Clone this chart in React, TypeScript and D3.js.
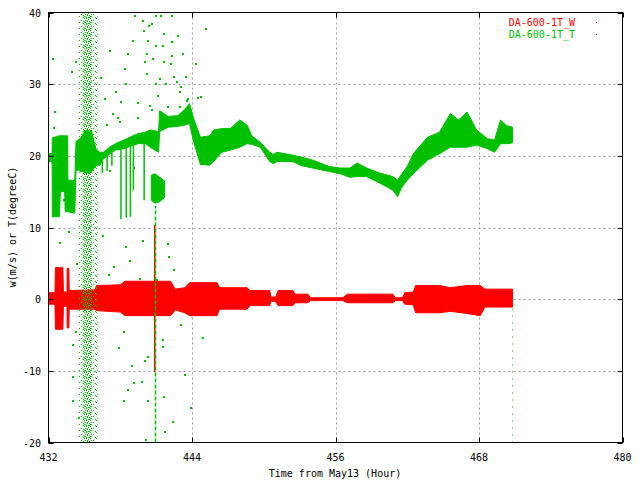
import React, { useEffect, useRef } from "react";
import * as d3 from "d3";

// axis ticks
const xTicks = [432, 444, 456, 468, 480];
const yTicks = [-20, -10, 0, 10, 20, 30, 40];

// DA-600-1T_T : envelope (upper / lower)
const tHours = [
  432.0, 432.3, 432.32, 432.9, 433.0, 433.35, 433.4, 433.6, 433.62, 434.2, 434.3, 434.7,
  435.1, 435.6, 436.0, 436.3, 436.6, 437.1, 437.6, 438.3, 438.8, 439.5, 440.1, 440.5,
  441.2, 441.3, 442.0, 442.8, 443.4, 443.8, 444.1, 444.7, 445.5, 445.8, 446.5, 447.2,
  448.0, 448.6, 449.0, 449.7, 450.5, 450.8, 451.1, 452.4, 453.2, 454.1, 455.5, 456.4,
  457.2, 457.8, 458.6, 459.7, 460.8, 461.2, 461.5, 462.0, 462.5, 463.7, 464.7, 465.6,
  466.3, 467.0, 467.8, 468.7, 469.3, 469.8, 470.3, 470.8,
];
const tHigh = [
  20.3, 20.3, 22.5, 22.8, 22.8, 22.8, 22.8, 22.8, 16.6, 16.6, 22.0, 22.5,
  23.6, 23.4, 20.8, 20.5, 20.5, 21.2, 21.7, 22.2, 22.6, 23.1, 23.3, 23.6,
  23.4, 26.3, 25.5, 25.6, 26.5, 27.3, 25.4, 22.6, 22.8, 23.6, 23.8, 23.8,
  25.0, 24.3, 22.8, 21.9, 20.5, 20.2, 20.5, 20.1, 19.8, 19.4, 18.5, 18.3,
  18.3, 19.0, 18.3, 17.6, 17.1, 16.6, 17.4, 18.5, 20.3, 22.6, 23.3, 25.9,
  25.0, 26.1, 23.6, 22.4, 22.2, 25.0, 24.2, 24.0,
];
const tLow = [
  19.2, 19.2, 11.5, 11.5, 15.0, 15.0, 12.2, 12.2, 12.2, 12.0, 18.0, 18.0,
  17.5, 17.8, 18.7, 18.7, 19.6, 20.2, 20.8, 21.0, 21.3, 21.7, 21.7, 21.2,
  20.5, 23.4, 24.0, 24.1, 24.3, 24.5, 22.2, 18.8, 18.7, 19.2, 20.5, 20.8,
  21.2, 21.7, 21.6, 21.2, 19.2, 18.9, 19.2, 19.2, 18.6, 18.3, 17.8, 17.5,
  17.0, 17.1, 17.1, 16.2, 15.2, 14.3, 15.5, 16.6, 17.5, 19.4, 20.3, 21.2,
  21.2, 21.2, 21.5, 21.0, 20.5, 21.7, 21.7, 21.8,
];

// detached low block of T near hour 441
const tBlockHours = [440.6, 440.9, 441.3, 441.7];
const tBlockHigh = [17.3, 17.5, 17.0, 16.5];
const tBlockLow = [13.8, 13.4, 13.6, 14.2];

// thin downward dropouts of T
const tDropHours = [436.5, 436.9, 437.3, 438.06, 438.5, 438.85, 439.1, 440.0];
const tDropLows = [17.6, 17.9, 18.6, 11.2, 11.4, 11.5, 15.2, 13.8];

// DA-600-1T_W : envelope
const wHours = [
  432.0, 432.54, 432.58, 433.2, 433.25, 433.55, 433.56, 433.7, 433.73, 435.9, 436.0, 438.0,
  438.4, 442.2, 442.6, 443.4, 443.8, 446.1, 446.3, 448.6, 448.85, 450.5, 450.6, 451.0,
  451.2, 452.45, 452.6, 453.7, 453.9, 456.6, 457.0, 460.8, 461.0, 461.6, 461.8, 462.5,
  462.7, 464.7, 465.6, 467.0, 468.1, 468.5, 470.8,
];
const wHigh = [
  0.9, 0.9, 4.4, 4.4, 1.0, 1.0, 4.3, 4.3, 1.2, 1.3, 1.9, 2.0,
  2.5, 2.5, 1.4, 1.6, 2.3, 2.3, 1.6, 1.6, 1.2, 1.2, 0.3, 0.3,
  1.2, 1.2, 0.7, 0.7, 0.2, 0.2, 0.7, 0.7, 0.2, 0.2, 0.9, 1.0,
  1.9, 1.9, 1.6, 1.9, 1.9, 1.4, 1.4,
];
const wLow = [
  -0.7, -0.7, -4.2, -4.2, -1.0, -1.0, -4.0, -4.0, -1.4, -1.4, -1.6, -1.8,
  -2.3, -2.3, -1.5, -1.9, -2.3, -2.3, -1.4, -1.4, -0.9, -0.9, -0.3, -0.3,
  -0.9, -0.9, -0.5, -0.5, -0.2, -0.2, -0.5, -0.5, -0.2, -0.2, -0.7, -0.8,
  -1.9, -1.9, -1.7, -2.0, -2.3, -1.1, -1.1,
];

// W spike at hour 440.88
const wSpikeHours = [440.88];
const wSpikeLow = [-10.2];
const wSpikeHigh = [10.4];

// dense green scatter band (hour ranges), outer sparse then inner dense
const bandStart = [434.55, 434.85];
const bandEnd = [436.1, 435.65];

// green vertical streak lines (second one is dotted)
const streakHours = [440.88, 470.8];
const streakLow = [-20, -20];
const streakHigh = [13, 0.5];

// sparse green scatter points
const scatterHours = [
  439.15, 439.82, 440.32, 440.9, 441.32, 442.24, 439.9, 440.57, 441.58, 442.24, 440.24, 440.15,
  440.9, 441.49, 442.24, 442.75, 439.99, 440.66, 441.58, 442.16, 443.16, 443.41, 443.0, 442.41,
  441.24, 440.15, 440.9, 441.74, 442.66, 444.42, 444.67, 445.09, 444.25, 432.3, 433.9, 434.2,
  432.5, 432.4, 437.1, 436.3, 437.6, 438.0, 438.3, 438.6, 439.0, 438.4, 437.7, 439.4,
  439.1, 437.1, 434.6, 434.0, 434.2, 434.3, 434.0, 434.0, 434.5, 437.4, 438.2, 437.8,
  438.9, 438.6, 438.2, 439.1, 439.7, 440.2, 440.2, 441.5, 441.5, 441.6, 442.3, 441.7,
  440.1, 443.3, 443.8, 442.4, 441.9, 444.8, 439.8, 438.4, 443.5, 442.9, 441.1, 440.4,
  436.8, 437.3, 436.6, 437.9, 439.4, 440.6, 441.9, 442.9, 443.6, 436.5, 437.0, 438.7,
  433.2, 433.6, 432.9, 439.6, 441.0, 442.0, 443.0, 440.0,
];
const scatterValues = [
  39.7, 38.9, 38.2, 39.7, 39.6, 39.7, 37.6, 38.6, 37.2, 36.0, 36.1, 34.4,
  35.5, 35.4, 34.1, 36.8, 33.3, 33.6, 33.3, 33.0, 34.3, 31.2, 29.8, 31.2,
  30.9, 31.6, 30.2, 30.1, 30.5, 28.2, 28.3, 37.8, 32.9, 33.7, 31.8, 33.3,
  26.3, 24.0, 34.7, 31.0, 29.1, 27.7, 32.3, 34.4, 36.1, 30.1, 25.4, 25.4,
  18.4, 18.0, 18.0, -6.3, -4.5, 5.1, -10.7, -14.0, -16.4, 4.6, -4.5, -6.7,
  -9.2, -12.5, -14.0, -11.6, -11.4, -7.9, -14.0, -5.6, -6.5, -13.5, -17.0, -18.4,
  -19.5, -10.5, -15.1, 4.2, 7.9, -5.3, 8.2, 7.4, 27.8, 26.9, 28.5, 27.1,
  24.5, 26.0, 28.0, 24.8, 27.5, 26.5, 27.0, 29.0, 28.0, 9.0, 3.5, 5.5,
  14.0, 9.5, 8.0, 3.0, 2.8, 6.0, -3.5, -8.5,
];

const RED = "#ff0000";
const GREEN = "#00c000";
const FONT = "'DejaVu Sans Mono', 'Liberation Mono', monospace";

// speckle tiles for the dense scatter band (x, y inside a 6x6 tile)
const sparseDots = [[0, 0], [3, 2], [1, 4], [5, 5]];
const denseDots = [[0, 0], [2, 0], [4, 1], [1, 2], [3, 3], [5, 3], [0, 4], [2, 5], [4, 5]];

const App: React.FC = () => {
  const svgRef = useRef<SVGSVGElement | null>(null);

  useEffect(() => {
    if (!svgRef.current) return;
    const svg = d3.select(svgRef.current);
    svg.selectAll("*").remove();

    const left = 48.5, right = 622.5, top = 12.5, bottom = 442.5;
    const x = d3.scaleLinear().domain([432, 480]).range([left, right]);
    const y = d3.scaleLinear().domain([-20, 40]).range([bottom, top]);

    const defs = svg.append("defs");
    defs.append("clipPath").attr("id", "plotclip")
      .append("rect").attr("x", left).attr("y", top).attr("width", right - left).attr("height", bottom - top);
    [["sparse", sparseDots], ["dense", denseDots]].forEach(([id, dots]) => {
      const p = defs.append("pattern").attr("id", id as string)
        .attr("patternUnits", "userSpaceOnUse").attr("width", 6).attr("height", 6);
      (dots as number[][]).forEach(([dx, dy]) => {
        p.append("rect").attr("x", dx).attr("y", dy).attr("width", 1).attr("height", 1).attr("fill", GREEN);
      });
    });

    // grid
    const grid = svg.append("g").attr("stroke", "#a0a0a0").attr("stroke-dasharray", "2,3");
    xTicks.slice(1, -1).forEach((t) => {
      grid.append("line").attr("x1", Math.round(x(t)) + 0.5).attr("x2", Math.round(x(t)) + 0.5)
        .attr("y1", top).attr("y2", bottom);
    });
    yTicks.slice(1, -1).forEach((t) => {
      grid.append("line").attr("y1", Math.round(y(t)) + 0.5).attr("y2", Math.round(y(t)) + 0.5)
        .attr("x1", left).attr("x2", right);
    });

    const plot = svg.append("g").attr("clip-path", "url(#plotclip)");

    const band = (hs: number[], hi: number[], lo: number[]) =>
      d3.area<number>()
        .x((_, i) => x(hs[i]))
        .y0((_, i) => y(lo[i]))
        .y1((_, i) => y(hi[i]))(hs);

    // W series
    plot.append("path").attr("d", band(wHours, wHigh, wLow)!)
      .attr("fill", RED).attr("stroke", RED).attr("stroke-width", 1);
    wSpikeHours.forEach((h, i) => {
      plot.append("line").attr("x1", x(h)).attr("x2", x(h))
        .attr("y1", y(wSpikeLow[i])).attr("y2", y(wSpikeHigh[i]))
        .attr("stroke", RED).attr("stroke-width", 1.5);
    });

    // T series
    bandStart.forEach((s, i) => {
      plot.append("rect").attr("x", x(s)).attr("y", top)
        .attr("width", x(bandEnd[i]) - x(s)).attr("height", bottom - top)
        .attr("fill", i === 0 ? "url(#sparse)" : "url(#dense)");
    });
    streakHours.forEach((h, i) => {
      plot.append("line").attr("x1", Math.round(x(h)) + 0.5).attr("x2", Math.round(x(h)) + 0.5)
        .attr("y1", y(streakLow[i])).attr("y2", y(streakHigh[i]))
        .attr("stroke", GREEN).attr("stroke-width", i === 0 ? 1.5 : 1)
        .attr("stroke-dasharray", i === 0 ? "4,2" : "1,6");
    });
    plot.append("path").attr("d", band(tHours, tHigh, tLow)!)
      .attr("fill", GREEN).attr("stroke", GREEN).attr("stroke-width", 1);
    plot.append("path").attr("d", band(tBlockHours, tBlockHigh, tBlockLow)!)
      .attr("fill", GREEN).attr("stroke", GREEN).attr("stroke-width", 1);
    tDropHours.forEach((h, i) => {
      const idx = d3.bisectLeft(tHours, h);
      plot.append("line").attr("x1", x(h)).attr("x2", x(h))
        .attr("y1", y(tLow[Math.min(idx, tLow.length - 1)])).attr("y2", y(tDropLows[i]))
        .attr("stroke", GREEN).attr("stroke-width", 1.5);
    });
    plot.selectAll(".pt").data(scatterHours).enter().append("rect")
      .attr("x", (h) => Math.round(x(h)))
      .attr("y", (_, i) => Math.round(y(scatterValues[i])))
      .attr("width", 2).attr("height", 2).attr("fill", GREEN)
      .attr("shape-rendering", "crispEdges");

    // border + inward ticks on all sides
    svg.append("rect").attr("x", left).attr("y", top).attr("width", right - left)
      .attr("height", bottom - top).attr("fill", "none").attr("stroke", "#000");
    const ticks = svg.append("g").attr("stroke", "#000");
    xTicks.forEach((t) => {
      const px = Math.round(x(t)) + 0.5;
      ticks.append("line").attr("x1", px).attr("x2", px).attr("y1", bottom).attr("y2", bottom - 5);
      ticks.append("line").attr("x1", px).attr("x2", px).attr("y1", top).attr("y2", top + 5);
    });
    yTicks.forEach((t) => {
      const py = Math.round(y(t)) + 0.5;
      ticks.append("line").attr("y1", py).attr("y2", py).attr("x1", left).attr("x2", left + 5);
      ticks.append("line").attr("y1", py).attr("y2", py).attr("x1", right).attr("x2", right - 5);
    });

    const text = svg.append("g").attr("font-family", FONT).attr("font-size", 10).attr("fill", "#000");
    xTicks.forEach((t) => {
      text.append("text").attr("x", x(t)).attr("y", 461).attr("text-anchor", "middle").text(String(t));
    });
    yTicks.forEach((t) => {
      text.append("text").attr("x", 41).attr("y", y(t) + 4).attr("text-anchor", "end").text(String(t));
    });
    text.append("text").attr("x", 335).attr("y", 477).attr("text-anchor", "middle")
      .text("Time from May13 (Hour)");
    text.append("text").attr("transform", "translate(16,227) rotate(-90)").attr("text-anchor", "middle")
      .text("w(m/s) or T(degreeC)");

    // legend
    const legend = [
      { label: "DA-600-1T_W", color: RED },
      { label: "DA-600-1T_T", color: GREEN },
    ];
    legend.forEach((d, i) => {
      text.append("text").attr("x", 575).attr("y", 26 + i * 12).attr("text-anchor", "end")
        .attr("fill", d.color).text(d.label);
      svg.append("rect").attr("x", 596).attr("y", 22 + i * 12).attr("width", 1).attr("height", 1)
        .attr("fill", d.color);
    });
  }, []);

  return (
    <svg ref={svgRef} width={640} height={480}
      style={{ position: "absolute", left: 0, top: 0, background: "#fff" }} />
  );
};

export default App;
